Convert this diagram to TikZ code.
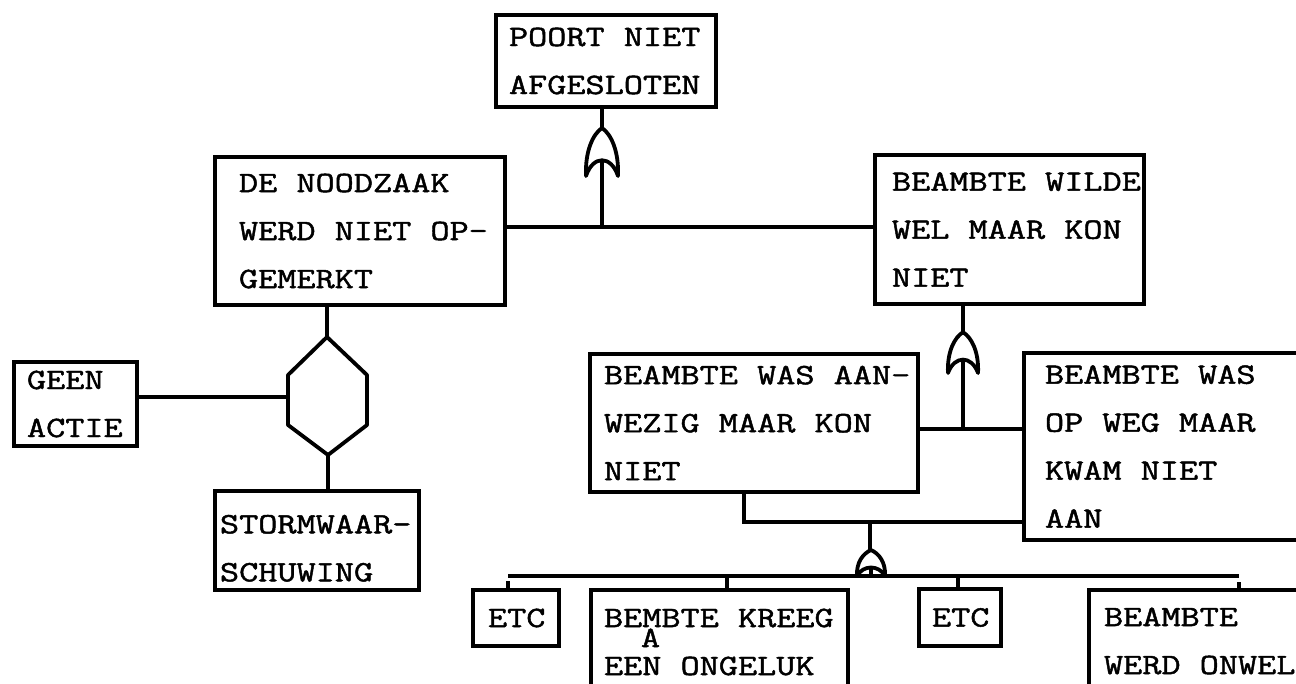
\documentclass[tikz,border=0pt]{standalone}
\usepackage{fontspec}
\newfontfamily\typefont[FakeStretch=1.26, FakeBold=1.6]{Latin Modern Mono}
\newcommand\typesize{\typefont\fontsize{29.5}{48}\selectfont\exhyphenpenalty=10000 }
\newcommand\tgap{\hphantom{E}}

\tikzset{
  box/.style={draw, line width=4pt, anchor=north west, align=left, inner ysep=0pt,
    font=\typesize},
  link/.style={line width=3.6pt},
  gate/.style={line width=3.8pt, line join=round},
  orgate/.pic={\draw[gate] (-16,0) .. controls (-17,-25) and (-9,-42) .. (0,-48)
      .. controls (9,-42) and (17,-25) .. (16,0)
      .. controls (9,-21) and (-9,-21) .. cycle;}
}

\begin{document}
\begin{tikzpicture}[x=1pt, y=-1pt]
        \useasboundingbox (0,0) rectangle (1296,684);
        \fill[white] (0,0) rectangle (1296,684);
        \clip (0,0) rectangle (1296,684);
        % Events
        \node[box, text width=194, inner xsep=13, minimum height=92] (poort) at (494,13) {POORT\tgap NIET\\AFGESLOTEN};
        \node[box, text width=242, inner xsep=24, minimum height=148] (noodzaak) at (213,155) {DE\tgap NOODZAAK\\\mbox{WERD\tgap NIET\tgap OP-}\\GEMERKT};
        \node[box, text width=235, inner xsep=17, minimum height=149] (wilde) at (873,153) {\mbox{BEAMBTE\tgap WILDE}\\WEL\tgap MAAR\tgap KON\\NIET};
        \node[box, text width=97, inner xsep=13, minimum height=84] (geen) at (12,360) {GEEN\\ACTIE};
        \node[box, text width=194, inner xsep=5, minimum height=99] (storm) at (213,489) {\rule{0pt}{34pt}STORMWAAR-\\SCHUWING};
        \node[box, text width=300, inner xsep=14, minimum height=138] (aanwezig) at (588,352) {\mbox{BEAMBTE\tgap WAS\tgap AAN-}\\WEZIG\tgap MAAR\tgap KON\\NIET};
        \node[box, text width=300, inner xsep=21, minimum height=187] (opweg) at (1022,351) {BEAMBTE\tgap WAS\\OP\tgap WEG\tgap MAAR\\KWAM\tgap NIET\\AAN};
        \node[box, align=center, text width=56, inner xsep=15, minimum height=56] (etcA) at (471,588) {ETC};
        \node[box, text width=231, inner xsep=13, minimum height=104] (ongeluk) at (589,588)
            {BEMBTE\tgap KREEG\\[-28pt]\hspace*{37pt}A\\[-20pt]EEN\tgap ONGELUK};
        \node[box, align=center, text width=56, inner xsep=13, minimum height=57] (etcB) at (917,587) {ETC};
        \node[box, text width=300, inner xsep=15, minimum height=102] (onwel) at (1087,588) {BEAMBTE\\WERD\tgap ONWEL};
        % Gates
        \pic at (602,176) {orgate};
        \pic[xscale=0.94, yscale=0.85] at (963,373) {orgate};
        \pic[xscale=0.875, yscale=0.54] at (871,576) {orgate};
        \coordinate (or1top) at (602,128);
        \coordinate (or1in) at (602,160);
        \coordinate (or1bus) at (602,227);
        \coordinate (or2top) at (963,332);
        \coordinate (or2in) at (963,359);
        \coordinate (or2bus) at (963,429);
        \coordinate (or3top) at (870,550);
        \coordinate (or3in) at (871,567);
        \coordinate (or3feed) at (870,522);
        \coordinate (barL) at (508,576);
        \coordinate (barB) at (727,576);
        \coordinate (barC) at (958,576);
        \coordinate (barR) at (1239,576);
        % Inhibit gate
        \draw[gate] (327,337) coordinate (hextop) -- (367,375) -- (367,425) -- (328,455) coordinate (hexbot)
            -- (288,425) -- (288,375) -- cycle;
        \coordinate (hexleft) at (288,397);
        % Connectors
        \draw[link] (or1top |- poort.south) -- (or1top);
        \draw[link] (noodzaak.east |- or1bus) -- (wilde.west |- or1bus);
        \draw[link] (or1bus) -- (or1in);
        \draw[link] (hextop |- noodzaak.south) -- (hextop);
        \draw[link] (hexbot) -- (hexbot |- storm.north);
        \draw[link] (geen.east |- hexleft) -- (hexleft);
        \draw[link] (or2top |- wilde.south) -- (or2top);
        \draw[link] (aanwezig.east |- or2bus) -- (opweg.west |- or2bus);
        \draw[link] (or2bus) -- (or2in);
        \draw[link] (744,0 |- aanwezig.south) |- (opweg.west |- or3feed);
        \draw[link] (or3feed) -- (or3top);
        \draw[link] (barL) -- (barR);
        \draw[link] (or3in) -- (871,576);
        \draw[link] ([yshift=-5]barL) -- (barL |- etcA.north);
        \draw[link] (barB) -- (barB |- ongeluk.north);
        \draw[link] (barC) -- (barC |- etcB.north);
        \draw[link] ([yshift=-6]barR) -- (barR |- onwel.north);
\end{tikzpicture}
\end{document}
